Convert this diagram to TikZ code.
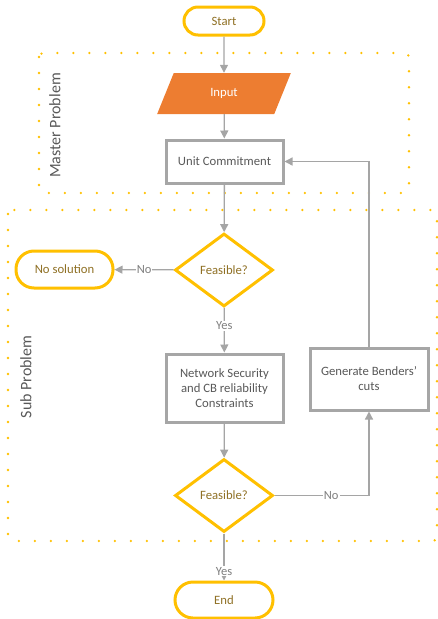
\documentclass[tikz,border=0pt]{standalone}
\usepackage{fontspec}
\setmainfont{Carlito}
\usetikzlibrary{shapes.geometric,arrows.meta}
\definecolor{gold}{HTML}{FFC000}
\definecolor{goldtext}{HTML}{8F7024}
\definecolor{orangefill}{HTML}{ED7D31}
\definecolor{boxgray}{HTML}{A6A6A6}
\definecolor{linegray}{HTML}{A5A5A5}
\definecolor{textgray}{HTML}{595959}
\definecolor{labelgray}{HTML}{7F7F7F}
\begin{document}
\begin{tikzpicture}[x=1pt,y=-1pt,
  terminal/.style={draw=gold, line width=3pt, fill=white, text=goldtext, font=\fontsize{12.7}{14}\selectfont, inner sep=0pt},
  decision/.style={draw=gold, line width=3pt, fill=white, text=goldtext, shape=diamond, minimum width=98pt, minimum height=73pt, inner sep=0pt, font=\fontsize{12.7}{14}\selectfont},
  procbox/.style={draw=boxgray, line width=3pt, fill=white, text=textgray, inner sep=0pt, align=center, font=\fontsize{12.7}{15}\selectfont},
  dataio/.style={shape=trapezium, trapezium left angle=66, trapezium right angle=114, trapezium stretches=true, fill=orangefill, text=white, minimum width=134pt, minimum height=41pt, inner sep=0pt, font=\fontsize{12.7}{14}\selectfont},
  flow/.style={draw=linegray, line width=1.3pt, -{Triangle[length=8pt,width=8pt]}},
  lbl/.style={fill=white, text=labelgray, inner sep=1pt, font=\fontsize{12.5}{14}\selectfont},
  region/.style={draw=gold, line width=2.6pt, line cap=round, dash pattern=on 0pt off 16pt, rounded corners=4pt},
  regionlabel/.style={text=textgray, rotate=90, font=\fontsize{16}{18}\selectfont}
]
\useasboundingbox (0,0) rectangle (438,619);

% regions
\draw[region] (39,53) rectangle (409,193);
\draw[region] (8,210) rectangle (437,541);
\node[regionlabel] (mlabel) at (55,125.5) {Master Problem};
\node[regionlabel] (slabel) at (26,377) {Sub Problem};

% nodes
\node[terminal, rounded corners=14pt, minimum width=80pt, minimum height=28pt] (start) at (224,21) {Start};
\node[dataio] (input) at (224,93.5) {Input};
\node[procbox, minimum width=117pt, minimum height=43pt] (uc) at (224.5,161.5) {Unit Commitment};
\node[decision] (feas1) at (224,270) {Feasible?};
\node[terminal, rounded corners=18pt, minimum width=97pt, minimum height=37pt] (nosol) at (64.5,269.5) {No solution};
\node[procbox, minimum width=117pt, minimum height=68pt] (net) at (224.5,388) {Network Security\\and CB reliability\\Constraints};
\node[procbox, minimum width=118pt, minimum height=62pt] (bend) at (369,379) {Generate Benders'\\cuts};
\node[decision] (feas2) at (224,495.5) {Feasible?};
\node[terminal, rounded corners=18pt, minimum width=98pt, minimum height=36pt] (end) at (224,600) {End};

% connectors
\draw[flow] (start) -- (input);
\draw[flow] (input) -- (uc);
\draw[flow] (uc) -- (feas1);
\draw[flow] (feas1) -- node[lbl] {No} (nosol);
\draw[flow] (feas1) -- node[lbl, pos=0.4] {Yes} (net);
\draw[flow] (net) -- (feas2);
\draw[flow] (feas2) -- node[lbl, pos=0.8] {Yes} (end);
\draw[flow] (feas2.east) -| node[lbl, pos=0.3] {No} (bend.south);
\draw[flow] (bend.north) |- (uc.east);
\end{tikzpicture}
\end{document}
